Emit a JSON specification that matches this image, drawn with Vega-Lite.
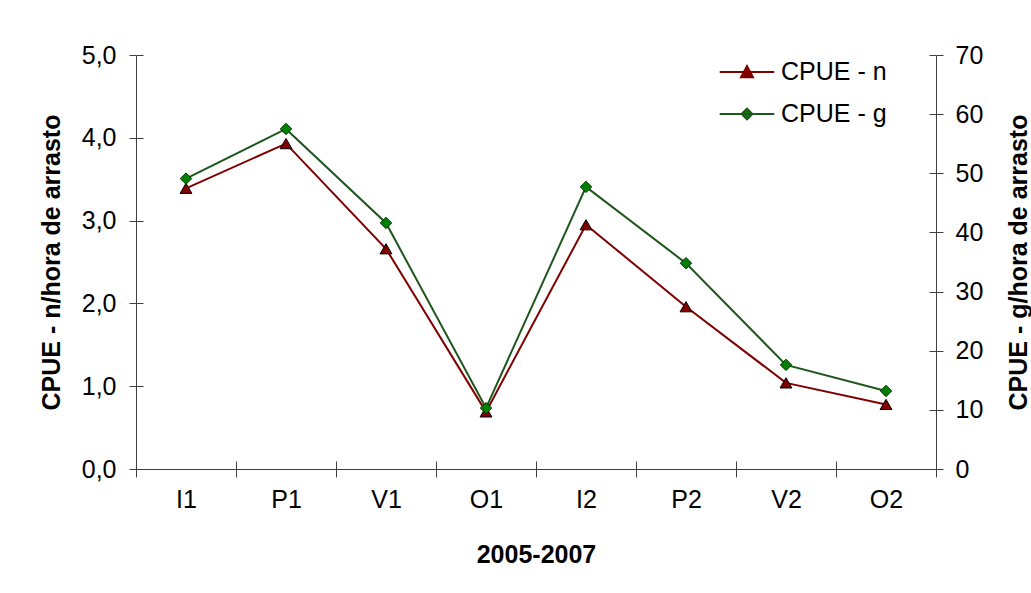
{
  "$schema": "https://vega.github.io/schema/vega-lite/v6.json",
  "width": 800,
  "height": 414,
  "autosize": {"type": "none"},
  "padding": {"left": 136, "top": 55, "right": 95, "bottom": 124},
  "background": "white",
  "config": {
    "view": {"stroke": null},
    "font": "Liberation Sans",
    "axis": {
      "labelFont": "Liberation Sans",
      "labelFontSize": 25,
      "labelColor": "black",
      "titleFont": "Liberation Sans",
      "titleFontSize": 25,
      "titleFontWeight": "bold",
      "titleColor": "black",
      "domainColor": "#404040",
      "tickColor": "#404040",
      "grid": false
    }
  },
  "data": {
    "values": [
      {"periodo": "I1", "serie": "CPUE - n", "valor": 3.39},
      {"periodo": "P1", "serie": "CPUE - n", "valor": 3.93},
      {"periodo": "V1", "serie": "CPUE - n", "valor": 2.66},
      {"periodo": "O1", "serie": "CPUE - n", "valor": 0.69},
      {"periodo": "I2", "serie": "CPUE - n", "valor": 2.95},
      {"periodo": "P2", "serie": "CPUE - n", "valor": 1.96},
      {"periodo": "V2", "serie": "CPUE - n", "valor": 1.04},
      {"periodo": "O2", "serie": "CPUE - n", "valor": 0.78},
      {"periodo": "I1", "serie": "CPUE - g", "valor": 49.1},
      {"periodo": "P1", "serie": "CPUE - g", "valor": 57.5},
      {"periodo": "V1", "serie": "CPUE - g", "valor": 41.6},
      {"periodo": "O1", "serie": "CPUE - g", "valor": 10.3},
      {"periodo": "I2", "serie": "CPUE - g", "valor": 47.7},
      {"periodo": "P2", "serie": "CPUE - g", "valor": 34.8},
      {"periodo": "V2", "serie": "CPUE - g", "valor": 17.6},
      {"periodo": "O2", "serie": "CPUE - g", "valor": 13.2}
    ]
  },
  "layer": [
    {
      "transform": [{"filter": "datum.serie === 'CPUE - n'"}],
      "encoding": {
        "x": {
          "field": "periodo",
          "type": "ordinal",
          "sort": ["I1", "P1", "V1", "O1", "I2", "P2", "V2", "O2"],
          "scale": {"type": "band", "paddingInner": 0, "paddingOuter": 0},
          "axis": {
            "orient": "bottom",
            "title": "2005-2007",
            "labelAngle": 0,
            "tickBand": "extent",
            "tickSize": 8,
            "labelPadding": 10,
            "titleY": 93,
            "titleBaseline": "alphabetic"
          }
        },
        "y": {
          "field": "valor",
          "type": "quantitative",
          "scale": {"domain": [0, 5], "nice": false},
          "axis": {
            "orient": "left",
            "title": "CPUE - n/hora de arrasto",
            "values": [0, 1, 2, 3, 4, 5],
            "labelExpr": "replace(format(datum.value, '.1f'), '.', ',')",
            "tickSize": 7,
            "labelPadding": 13,
            "titleX": -85,
            "titleY": 207,
            "titleAngle": -90,
            "titleAlign": "center",
            "titleBaseline": "middle"
          }
        }
      },
      "layer": [
        {
          "mark": {"type": "line", "strokeWidth": 2},
          "encoding": {
            "color": {
              "field": "serie",
              "type": "nominal",
              "scale": {"domain": ["CPUE - n", "CPUE - g"], "range": ["#800000", "#1e561e"]},
              "legend": {
                "orient": "none",
                "legendX": 597,
                "legendY": 3,
                "title": null,
                "padding": 0,
                "labelFont": "Liberation Sans",
                "labelFontSize": 25,
                "labelColor": "black",
                "symbolSize": 676,
                "symbolStrokeWidth": 2,
                "labelOffset": 20,
                "rowPadding": 15,
                "encode": {
                  "symbols": {
                    "update": {
                      "shape": {"signal": "datum.value === 'CPUE - n' ? 'M-2.1,0L2.1,0M-0.46,0.4L0,-0.45L0.46,0.4Z' : 'M-2.1,0L2.1,0M-0.42,0L0,-0.42L0.42,0L0,0.42Z'"},
                      "fill": {"signal": "datum.value === 'CPUE - n' ? '#800000' : '#008000'"},
                      "fillOpacity": {"value": 1},
                      "opacity": {"value": 1}
                    }
                  }
                }
              }
            }
          }
        },
        {
          "mark": {"type": "point", "shape": "triangle-up", "filled": true, "fill": "#800000", "stroke": "black", "strokeWidth": 1, "size": 140, "opacity": 1}
        }
      ]
    },
    {
      "transform": [{"filter": "datum.serie === 'CPUE - g'"}],
      "encoding": {
        "x": {
          "field": "periodo",
          "type": "ordinal",
          "sort": ["I1", "P1", "V1", "O1", "I2", "P2", "V2", "O2"],
          "axis": {
            "orient": "bottom",
            "title": null,
            "labels": false,
            "domain": false,
            "tickBand": "extent",
            "tickSize": 8,
            "offset": -8
          }
        },
        "y": {
          "field": "valor",
          "type": "quantitative",
          "scale": {"domain": [0, 70], "nice": false},
          "axis": {
            "orient": "right",
            "title": "CPUE - g/hora de arrasto",
            "values": [0, 10, 20, 30, 40, 50, 60, 70],
            "tickSize": 7,
            "labelPadding": 12,
            "titleX": 82,
            "titleY": 207,
            "titleAngle": -90,
            "titleAlign": "center",
            "titleBaseline": "middle"
          }
        }
      },
      "layer": [
        {
          "mark": {"type": "line", "strokeWidth": 2},
          "encoding": {
            "color": {"field": "serie", "type": "nominal"}
          }
        },
        {
          "mark": {"type": "point", "shape": "diamond", "filled": true, "fill": "#008000", "stroke": "#003300", "strokeWidth": 1, "size": 130, "opacity": 1}
        }
      ]
    },
    {
      "transform": [{"filter": "datum.serie === 'CPUE - n'"}],
      "mark": {"type": "point", "opacity": 0},
      "encoding": {
        "x": {"field": "periodo", "type": "ordinal", "sort": ["I1", "P1", "V1", "O1", "I2", "P2", "V2", "O2"], "axis": null},
        "y": {
          "field": "valor",
          "type": "quantitative",
          "scale": {"domain": [0, 5], "nice": false},
          "axis": {"orient": "left", "title": null, "labels": false, "domain": false, "values": [0, 1, 2, 3, 4, 5], "tickSize": 7, "offset": -7}
        }
      }
    },
    {
      "transform": [{"filter": "datum.serie === 'CPUE - g'"}],
      "mark": {"type": "point", "opacity": 0},
      "encoding": {
        "x": {"field": "periodo", "type": "ordinal", "sort": ["I1", "P1", "V1", "O1", "I2", "P2", "V2", "O2"], "axis": null},
        "y": {
          "field": "valor",
          "type": "quantitative",
          "scale": {"domain": [0, 70], "nice": false},
          "axis": {"orient": "right", "title": null, "labels": false, "domain": false, "values": [0, 10, 20, 30, 40, 50, 60, 70], "tickSize": 7, "offset": -7}
        }
      }
    }
  ],
  "resolve": {"scale": {"y": "independent"}, "axis": {"x": "independent"}}
}
